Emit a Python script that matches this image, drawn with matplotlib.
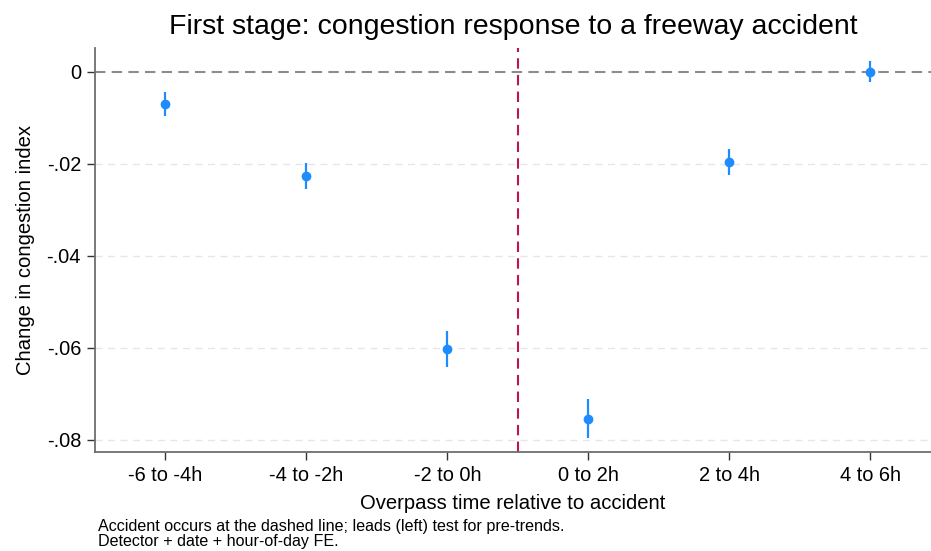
import matplotlib.pyplot as plt

plt.rcParams['font.family'] = ['Liberation Sans', 'DejaVu Sans']

# Data
windows = ["-6 to -4h", "-4 to -2h", "-2 to 0h", "0 to 2h", "2 to 4h", "4 to 6h"]
coef = [-0.0070, -0.0226, -0.0602, -0.0754, -0.0196, 0.0000]
ci_low = [-0.0095, -0.0255, -0.0641, -0.0795, -0.0224, -0.0023]
ci_high = [-0.0044, -0.0198, -0.0563, -0.0711, -0.0167, 0.0024]
yticks = [0, -0.02, -0.04, -0.06, -0.08]
ytick_labels = ["0", "-.02", "-.04", "-.06", "-.08"]

x = list(range(len(windows)))
err_lo = [c - l for c, l in zip(coef, ci_low)]
err_hi = [h - c for c, h in zip(coef, ci_high)]

fig = plt.figure(figsize=(9.31, 5.51), dpi=100)
ax = fig.add_axes([0.102, 0.18, 0.898, 0.733])

# grid lines
for yt in yticks[1:]:
    ax.axhline(yt, color='#e6e6e6', linestyle=(0, (5, 4)), linewidth=1.0, zorder=0)
ax.axhline(0, color='#8c8c8c', linestyle=(0, (5, 3)), linewidth=1.5, zorder=1)
ax.axvline(2.5, color='#c0144a', linestyle=(0, (5, 3)), linewidth=1.5, zorder=1)

ax.errorbar(x, coef, yerr=[err_lo, err_hi], fmt='o', color='#1e8cff',
            ecolor='#1e8cff', elinewidth=1.6, capsize=0, markersize=6, zorder=3)

ax.set_xlim(-0.5, 5.43)
ax.set_ylim(-0.0826, 0.0052)
ax.set_xticks(x)
ax.set_xticklabels(windows, fontsize=14.4)
ax.set_yticks(yticks)
ax.set_yticklabels(ytick_labels, fontsize=14.4)

for s in ['top', 'right']:
    ax.spines[s].set_visible(False)
for s in ['left', 'bottom']:
    ax.spines[s].set_color('#6e6e6e')
    ax.spines[s].set_linewidth(1.3)
ax.tick_params(axis='both', length=6, width=1.0, color='#333333', pad=4)

ax.set_title("First stage: congestion response to a freeway accident", fontsize=20.5, pad=10)
ax.set_xlabel("Overpass time relative to accident", fontsize=14.6, labelpad=7)
ax.set_ylabel("Change in congestion index", fontsize=14.6, labelpad=8)

fig.text(0.105, 0.004, "Accident occurs at the dashed line; leads (left) test for pre-trends.\n"
         "Detector + date + hour-of-day FE.", fontsize=11.6, linespacing=0.95, va='bottom')

fig.savefig("out.png", dpi=100, facecolor='white')
